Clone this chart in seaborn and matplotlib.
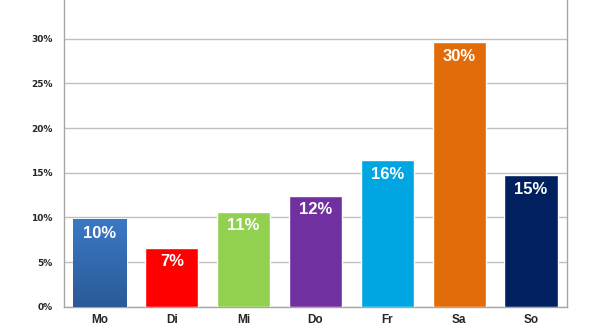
import numpy as np
import pandas as pd
import matplotlib
matplotlib.use("Agg")
import matplotlib.pyplot as plt
import seaborn as sns
from matplotlib.colors import LinearSegmentedColormap

days = ["Mo", "Di", "Mi", "Do", "Fr", "Sa", "So"]
shares = [9.8, 6.6, 10.6, 12.4, 16.4, 29.6, 14.7]
colors = ["#3570bd", "#ff0000", "#92d050", "#7030a0", "#00a6e2", "#e36c0a", "#002060"]
y_ticks = [0, 5, 10, 15, 20, 25, 30]

sns.set_theme(style="white")
plt.rcParams["font.family"] = ["Liberation Sans", "DejaVu Sans"]

df = pd.DataFrame({"day": days, "share": shares})

fig = plt.figure(figsize=(6.0, 3.35), dpi=100)
ax = fig.add_axes([64 / 600, 28.3 / 335, (567 - 64) / 600, 306.7 / 335])

sns.barplot(data=df, x="day", y="share", hue="day", palette=colors,
            width=0.74, saturation=1, legend=False, ax=ax, zorder=3)

# Monday bar gets a vertical blue gradient
mo = ax.patches[0]
x0, w = mo.get_x(), mo.get_width()
h = mo.get_height()
grad = np.linspace(0, 1, 256).reshape(-1, 1)
cmap = LinearSegmentedColormap.from_list("mo", ["#2b5a98", "#3b78c6"])
im = ax.imshow(grad, cmap=cmap, extent=[x0, x0 + w, 0, h], origin="lower",
               aspect="auto", zorder=3.5)
im.set_clip_path(mo)

for p, v in zip(ax.patches, shares):
    ax.text(p.get_x() + p.get_width() / 2, v - 1.55, f"{v:.0f}%",
            ha="center", va="center", color="white", fontsize=12,
            fontweight="bold", zorder=5)

ax.set_xlim(-0.5, 6.5)
ax.set_ylim(0, 34.35)
ax.set_yticks(y_ticks)
ax.set_yticklabels([f"{t}%" for t in y_ticks], fontsize=6.5, fontweight="bold",
                   family=["DejaVu Sans"])
ax.set_xticklabels(days, fontsize=8.5, fontweight="bold")
ax.tick_params(axis="y", length=0, pad=8)
ax.tick_params(axis="x", length=0, pad=5)
ax.set_xlabel("")
ax.set_ylabel("")

ax.yaxis.grid(True, color="#c0c0c0", linewidth=1, zorder=0)
ax.set_axisbelow(True)
for s in ["left", "right", "bottom"]:
    ax.spines[s].set_color("#a6a6a6")
    ax.spines[s].set_linewidth(1)
ax.spines["top"].set_visible(False)

fig.savefig("out.png", dpi=100)
